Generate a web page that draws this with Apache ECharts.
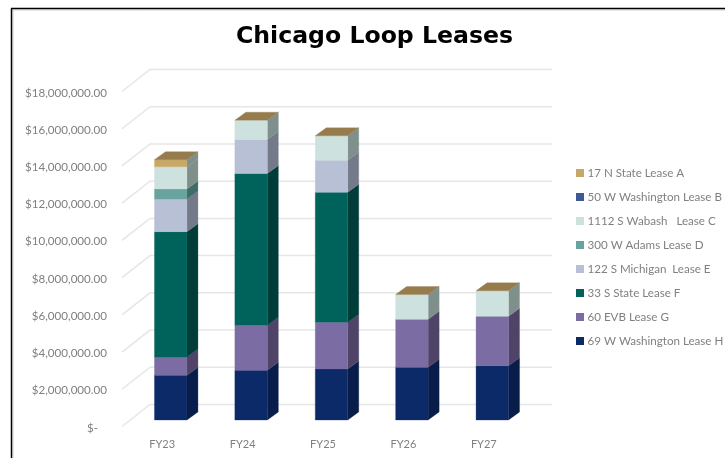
<!DOCTYPE html>
<html><head><meta charset="utf-8">
<style>html,body{margin:0;padding:0;background:#fff}#c{width:725px;height:458px}</style>
<script src="https://cdn.jsdelivr.net/npm/echarts@6/dist/echarts.min.js"></script>
</head><body><div id="c"></div>
<script>
const categories = ['FY23','FY24','FY25','FY26','FY27'];
const yTicks = [0,2e6,4e6,6e6,8e6,10e6,12e6,14e6,16e6,18e6];
const leaseH = [2.40e6,2.67e6,2.74e6,2.83e6,2.92e6];
const leaseG = [0.98e6,2.42e6,2.51e6,2.58e6,2.65e6];
const leaseF = [6.74e6,8.15e6,6.99e6,0,0];
const leaseE = [1.75e6,1.83e6,1.72e6,0,0];
const leaseD = [0.54e6,0,0,0,0];
const leaseC = [1.20e6,1.04e6,1.31e6,1.33e6,1.37e6];
const leaseB = [0,0,0,0,0];
const leaseA = [0.38e6,0,0,0,0];
const seriesNames = ['17 N State Lease A','50 W Washington Lease B','1112 S Wabash   Lease C','300 W Adams Lease D','122 S Michigan  Lease E','33 S State Lease F','60 EVB Lease G','69 W Washington Lease H'];
const stackBottomUp = [
  {name:seriesNames[7],values:leaseH,color:'#0C2A68',side:'#081D4A'},
  {name:seriesNames[6],values:leaseG,color:'#7B6CA3',side:'#4F4467'},
  {name:seriesNames[5],values:leaseF,color:'#00635B',side:'#003D39'},
  {name:seriesNames[4],values:leaseE,color:'#B7C0D5',side:'#747A8A'},
  {name:seriesNames[3],values:leaseD,color:'#69A39E',side:'#3F6C68'},
  {name:seriesNames[2],values:leaseC,color:'#CDE1DE',side:'#7F908C'},
  {name:seriesNames[1],values:leaseB,color:'#3E5A94',side:'#2A3D66'},
  {name:seriesNames[0],values:leaseA,color:'#C8A866',side:'#7F908C'}
];
const capColor = '#967C4C';
const FRONT_DY = -1.3, WALL = [28,-22], BAR_OFF = [8.5,-6.5+FRONT_DY], BAR_W = 32.5, DEPTH = [11,-8];

const totals = categories.map(()=>0);
const series = [];
// back wall and floor lines
series.push({
  type:'custom', silent:true, z:1, clip:false,
  data: yTicks.map(t=>[0,t]),
  encode:{x:0,y:1},
  renderItem(params,api){
    const band = api.size([1,0])[0];
    const p = api.coord([0,api.value(1)]);
    const y = p[1]+FRONT_DY;
    const x0 = p[0]-band/2, x1 = p[0]-band/2+band*categories.length;
    return {type:'polyline',shape:{points:[[x0,y],[x0+WALL[0],y+WALL[1]],[x1+WALL[0],y+WALL[1]]]},
      style:{stroke:'#E6E6E6',lineWidth:1.5,fill:null}};
  }
});
function poly(pts,fill){return {type:'polygon',shape:{points:pts},style:{fill:fill,stroke:fill,lineWidth:0.3}};}
stackBottomUp.forEach(s=>{
  const data = s.values.map((v,i)=>{const a=totals[i];totals[i]+=v;return [i,a,totals[i]];}).filter(d=>d[2]>d[1]);
  series.push({
    type:'custom', name:s.name, z:3, clip:false,
    itemStyle:{color:s.color},
    data:data, encode:{x:0,y:[1,2]},
    renderItem(params,api){
      const a = api.coord([api.value(0),api.value(1)]), b = api.coord([api.value(0),api.value(2)]);
      const x0=a[0]+BAR_OFF[0]-BAR_W/2, x1=x0+BAR_W, y0=a[1]+BAR_OFF[1], y1=b[1]+BAR_OFF[1];
      return {type:'group',children:[
        poly([[x1,y0],[x1+DEPTH[0],y0+DEPTH[1]],[x1+DEPTH[0],y1+DEPTH[1]],[x1,y1]],s.side),
        poly([[x0,y0],[x1,y0],[x1,y1],[x0,y1]],s.color)
      ]};
    }
  });
});
// brown cap on top of each stack
series.push({
  type:'custom', silent:true, z:4, clip:false,
  data: totals.map((t,i)=>[i,t]), encode:{x:0,y:1},
  renderItem(params,api){
    const b = api.coord([api.value(0),api.value(1)]);
    const x0=b[0]+BAR_OFF[0]-BAR_W/2, x1=x0+BAR_W, y=b[1]+BAR_OFF[1];
    return poly([[x0,y],[x1,y],[x1+DEPTH[0],y+DEPTH[1]],[x0+DEPTH[0],y+DEPTH[1]]],capColor);
  }
});

const FONT = 'Lato';
const chart = echarts.init(document.getElementById('c'),null,{renderer:'canvas'});
chart.setOption({
  animation:false,
  backgroundColor:'#fff',
  title:{text:'Chicago Loop Leases',left:369.5,textAlign:'center',top:20,
    textStyle:{fontFamily:'DejaVu Sans',fontWeight:'bold',fontSize:23.6,color:'#000'}},
  legend:{orient:'vertical',left:576,top:166,padding:0,itemWidth:8,itemHeight:8,itemGap:10,icon:'rect',
    data:seriesNames,selectedMode:false,
    textStyle:{fontFamily:FONT,fontSize:11.6,lineHeight:14,color:'#808080',padding:[0,0,0,-1.5]}},
  grid:{left:122,width:402,top:92.8,height:335},
  xAxis:{type:'category',data:categories,axisLine:{show:false},axisTick:{show:false},
    axisLabel:{margin:11,fontFamily:FONT,fontSize:11,color:'#808080'}},
  yAxis:{type:'value',min:0,max:18e6,interval:2e6,splitLine:{show:false},axisLine:{show:false},axisTick:{show:false},
    axisLabel:{margin:15,fontFamily:FONT,fontSize:11.6,color:'#808080',
      formatter:v=>v===0?'$-   ':'$'+v.toLocaleString('en-US',{minimumFractionDigits:2,maximumFractionDigits:2})}},
  graphic:[
    {type:'line',silent:true,shape:{x1:11.5,y1:458,x2:11.5,y2:8.5},style:{stroke:'#000',lineWidth:1.5}},
    {type:'line',silent:true,shape:{x1:11,y1:8.5,x2:725,y2:8.5},style:{stroke:'#000',lineWidth:1.5}},
    {type:'line',silent:true,shape:{x1:13,y1:9.8,x2:725,y2:9.8},style:{stroke:'#aaa',lineWidth:1}},
    {type:'line',silent:true,shape:{x1:12.8,y1:10,x2:12.8,y2:458},style:{stroke:'#aaa',lineWidth:1}}
  ],
  series:series
});
</script></body></html>
